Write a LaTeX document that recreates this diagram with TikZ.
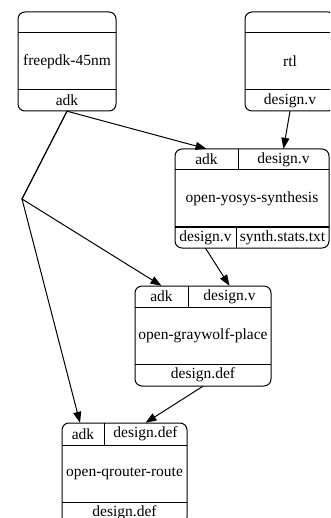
\documentclass[tikz,border=0pt]{standalone}
\usepackage{fontspec}
\setmainfont{Liberation Serif}
\usetikzlibrary{arrows.meta}
\tikzset{
  box/.style={draw, line width=1pt, rounded corners=7pt},
  sep/.style={line width=1pt},
  lbl/.style={inner sep=0pt, font=\fontsize{15.5}{18}\selectfont},
  port/.style={lbl, minimum height=21},
  arr/.style={line width=1pt, -{Triangle[length=11pt,width=8pt]}},
}
\begin{document}
\begin{tikzpicture}[x=1pt,y=-1pt]
\useasboundingbox (0,0) rectangle (330,518);
\clip (0,0) rectangle (330,518);
% freepdk-45nm
\draw[box] (18,12) rectangle (116,111);
\draw[sep] (18,33) -- (116,33);
\draw[sep] (18,90) -- (116,90);
\node[lbl] (freepdk) at (67,61.5) {freepdk-45nm};
\node[port, minimum width=98] (fp-adk) at (67,100.5) {adk};
% rtl
\draw[box] (245,12) rectangle (335,111);
\draw[sep] (245,33) -- (335,33);
\draw[sep] (245,90) -- (335,90);
\node[lbl] (rtl) at (290,61.5) {rtl};
\node[port, minimum width=90] (rtl-dv) at (290,100.5) {design.v};
% open-yosys-synthesis
\draw[box] (175,149) rectangle (329,248);
\draw[sep] (175,170) -- (329,170);
\draw[sep] (175,227) -- (329,227);
\draw[sep] (238,149) -- (238,170);
\draw[sep] (236,227) -- (236,248);
\node[port, minimum width=63] (ys-adk) at (206.5,159.5) {adk};
\node[port, minimum width=91] (ys-dv) at (283.5,159.5) {design.v};
\node[lbl] (yosys) at (252,198.5) {open-yosys-synthesis};
\node[port, minimum width=61] (ys-out) at (205.5,237.5) {design.v};
\node[port, minimum width=93] (ys-stats) at (282.5,237.5) {synth.stats.txt};
% open-graywolf-place
\draw[box] (135,286) rectangle (271,386);
\draw[sep] (135,307) -- (271,307);
\draw[sep] (135,364) -- (271,364);
\draw[sep] (188,286) -- (188,307);
\node[port, minimum width=53] (gw-adk) at (161.5,296.5) {adk};
\node[port, minimum width=83] (gw-dv) at (229.5,296.5) {design.v};
\node[lbl] (graywolf) at (203,335.5) {open-graywolf-place};
\node[port, minimum width=136, minimum height=22] (gw-def) at (203,375) {design.def};
% open-qrouter-route
\draw[box] (62,423) rectangle (187,524);
\draw[sep] (62,445) -- (187,445);
\draw[sep] (62,502) -- (187,502);
\draw[sep] (104,423) -- (104,445);
\node[port, minimum width=42, minimum height=22] (qr-adk) at (83,434) {adk};
\node[port, minimum width=83, minimum height=22] (qr-def) at (145.5,434) {design.def};
\node[lbl] (qrouter) at (124.5,473.5) {open-qrouter-route};
\node[port, minimum width=125] (qr-out) at (124.5,512.5) {design.def};
% edges
\coordinate (fork) at (22,199);
\draw[arr] (fp-adk.south) -- (ys-adk.north);
\draw[arr] (rtl-dv.south) -- (ys-dv.north);
\draw[arr] (fp-adk.south) -- (fork) -- (gw-adk.north);
\draw[arr] (fp-adk.south) -- (fork) -- ([xshift=-3]qr-adk.north);
\draw[arr] (ys-out.south) -- (gw-dv.north);
\draw[arr] (gw-def.south) -- (qr-def.north);
\end{tikzpicture}
\end{document}
